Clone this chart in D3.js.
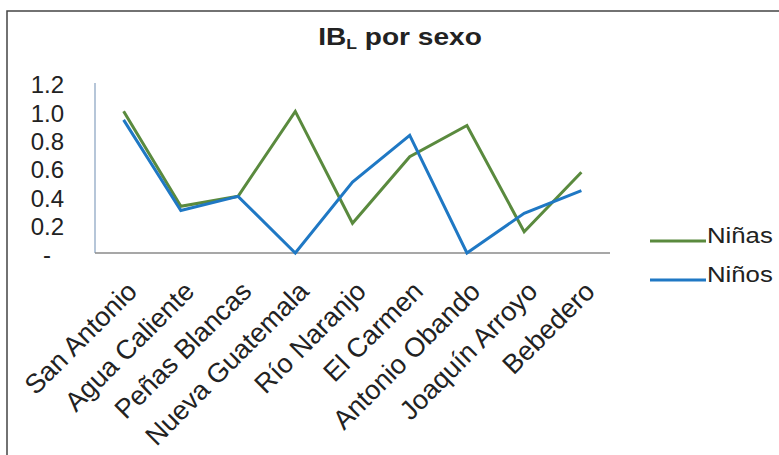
<!DOCTYPE html>
<html><head><meta charset="utf-8">
<script src="https://cdn.jsdelivr.net/npm/d3@7"></script>
<style>
html,body{margin:0;padding:0;background:#fff;}
svg{display:block;}
text{font-family:"Liberation Sans",Arial,sans-serif;fill:#222;}
</style></head>
<body>
<svg id="chart" width="779" height="455"></svg>
<script>
const categories = ["San Antonio","Agua Caliente","Peñas Blancas","Nueva Guatemala","Río Naranjo","El Carmen","Antonio Obando","Joaquín Arroyo","Bebedero"];
const ninas = [1.00,0.33,0.40,1.00,0.21,0.68,0.90,0.15,0.57];
const ninos = [0.94,0.30,0.40,0.00,0.50,0.83,0.00,0.28,0.44];
const yTicks = [0,0.2,0.4,0.6,0.8,1.0,1.2];
const yTickLabels = ["-","0.2","0.4","0.6","0.8","1.0","1.2"];
const seriesNames = ["Niñas","Niños"];
const seriesColors = ["#5A8A3E","#1F78C4"];

const svg = d3.select("#chart");
svg.append("rect").attr("x",7).attr("y",11).attr("width",800).attr("height",500)
  .attr("fill","#fff").attr("stroke","#444").attr("stroke-width",1.5);

const x = d3.scaleBand().domain(categories).range([95,610]);
const y = d3.scaleLinear().domain([0,1.2]).range([253,83]);

// axes lines
svg.append("line").attr("x1",95).attr("x2",95).attr("y1",y(1.2)).attr("y2",y(0))
  .attr("stroke","#8FA8C4").attr("stroke-width",1.3);
svg.append("line").attr("x1",95).attr("x2",610).attr("y1",y(0)).attr("y2",y(0))
  .attr("stroke","#8a8a8a").attr("stroke-width",1.3);

// y labels
svg.append("g").selectAll("text").data(yTicks).join("text")
  .attr("x",(d,i)=> d===0 ? 51 : 64)
  .attr("y",d=>y(d)+2)
  .attr("dy","0.35em")
  .attr("text-anchor","end")
  .attr("font-size",24)
  .text((d,i)=>yTickLabels[i]);

// x labels
svg.append("g").selectAll("text").data(categories).join("text")
  .attr("text-anchor","end")
  .attr("font-size",27)
  .attr("transform",d=>`translate(${x(d)+x.bandwidth()/2+15},${293}) rotate(-45)`)
  .text(d=>d);

// lines
const line = d3.line().x((d,i)=>x(categories[i])+x.bandwidth()/2).y(d=>y(d));
[ninas,ninos].forEach((s,k)=>{
  svg.append("path").datum(s).attr("d",line).attr("fill","none")
    .attr("stroke",seriesColors[k]).attr("stroke-width",3).attr("stroke-linejoin","miter");
});

// legend
const legY = [241,280];
seriesNames.forEach((n,k)=>{
  svg.append("line").attr("x1",650).attr("x2",706).attr("y1",legY[k]).attr("y2",legY[k])
    .attr("stroke",seriesColors[k]).attr("stroke-width",3);
  svg.append("text").attr("x",707).attr("y",legY[k]+2).attr("font-size",23)
    .attr("transform",`translate(707,0) scale(1.12,1) translate(-707,0)`)
    .text(n);
});

// title
const tg = svg.append("g").attr("transform","translate(400,45) scale(1.17,1)");
const t = tg.append("text").attr("text-anchor","middle").attr("font-size",24).attr("font-weight","bold");
t.append("tspan").text("IB");
t.append("tspan").attr("font-size",15).attr("dy",4).text("L");
t.append("tspan").attr("dy",-4).text(" por sexo");
</script>
</body></html>
